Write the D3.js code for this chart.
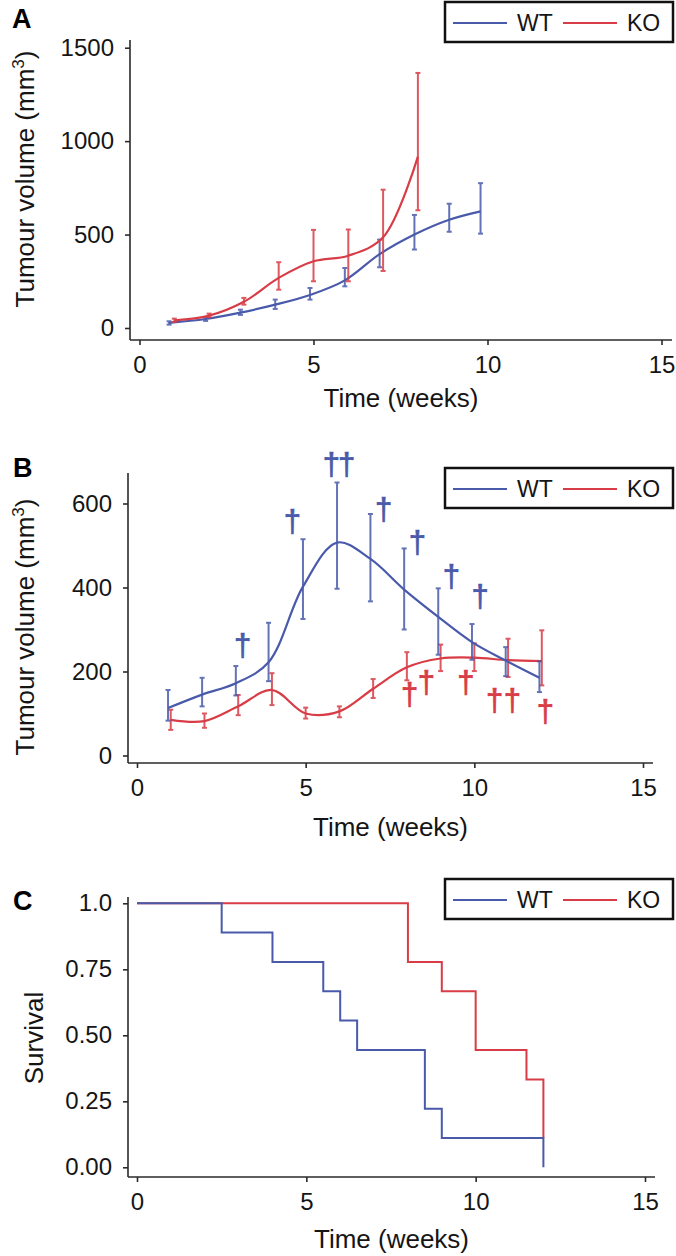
<!DOCTYPE html>
<html><head><meta charset="utf-8">
<script src="https://cdn.jsdelivr.net/npm/d3@7"></script>
<style>
body{margin:0;background:#fff}
svg{display:block}
text{font-family:"Liberation Sans",Arial,Helvetica,sans-serif}
</style>
</head><body>
<svg id="c" width="676" height="1256"></svg>
<script>
// ---------- data ----------
const groups = ["WT", "KO"];
const groupColors = ["#4a5aaa", "#d83c46"];
const xTickValues = [0, 5, 10, 15];

// Panel A: tumour volume (mm3)
const aWeeksWT = [0.85, 1.9, 2.9, 3.9, 4.9, 5.9, 6.9, 7.9, 8.9, 9.8];
const aMeanWT  = [27, 48, 82, 125, 177, 255, 395, 500, 579, 624];
const aLoWT    = [18, 38, 70, 102, 152, 223, 325, 420, 515, 505];
const aHiWT    = [36, 58, 98, 152, 214, 321, 473, 605, 665, 775];
const aWeeksKO = [1, 2, 3, 4, 5, 6, 7, 8];
const aMeanKO  = [41, 66, 140, 268, 357, 387, 485, 917];
const aLoKO    = [32, 58, 125, 205, 250, 250, 305, 630];
const aHiKO    = [50, 77, 161, 352, 525, 527, 740, 1365];
const aYTicks  = [0, 500, 1000, 1500];

// Panel B: tumour volume (mm3)
const bWeeksWT = [0.92, 1.93, 2.93, 3.9, 4.92, 5.93, 6.92, 7.92, 8.93, 9.93, 10.93, 11.93];
const bMeanWT  = [113, 145, 172, 222, 402, 507, 468, 395, 330, 270, 226, 185];
const bLoWT    = [83, 117, 143, 177, 325, 397, 367, 300, 240, 228, 189, 151];
const bHiWT    = [156, 185, 213, 316, 515, 650, 575, 493, 398, 313, 258, 224];
const bWeeksKO = [1, 2, 3, 4, 5, 6, 7, 8, 9, 10, 11, 12];
const bMeanKO  = [85, 82, 117, 156, 100, 105, 159, 210, 231, 233, 227, 225];
const bLoKO    = [61, 66, 96, 120, 88, 91, 137, 179, 201, 201, 187, 167];
const bHiKO    = [109, 100, 144, 196, 114, 117, 182, 246, 264, 267, 278, 298];
const bYTicks  = [0, 200, 400, 600];
// death markers (dagger) positions and labels
const bDaggerWeeksWT  = [3.1, 4.58, 5.96, 7.28, 8.28, 9.29, 10.14];
const bDaggerValsWT   = [258, 555, 691, 583, 505, 424, 375];
const bDaggerLabelsWT = ["\u2020", "\u2020", "\u2020\u2020", "\u2020", "\u2020", "\u2020", "\u2020"];
const bDaggerWeeksKO  = [8.05, 8.55, 9.72, 10.57, 11.1, 12.08];
const bDaggerValsKO   = [142, 172, 172, 129, 129, 103];
const bDaggerLabelsKO = ["\u2020", "\u2020", "\u2020", "\u2020", "\u2020", "\u2020"];

// Panel C: survival
const cTimesWT = [0, 2.5, 4, 5.5, 6, 6.5, 8.5, 9, 12];
const cSurvWT  = [1, 0.889, 0.778, 0.667, 0.556, 0.444, 0.222, 0.111, 0];
const cTimesKO = [0, 8, 9, 10, 11.5, 12];
const cSurvKO  = [1, 0.778, 0.667, 0.444, 0.333, 0.111];
const cYTicks  = [0, 0.25, 0.5, 0.75, 1];

// ---------- drawing ----------
const svg = d3.select("#c");
const axisColor = "#2a2a2a";
const textColor = "#151515";

function makePanel(p) {
  const x = d3.scaleLinear().domain([0, 15]).range(p.xr);
  const y = d3.scaleLinear().domain(p.yd).range(p.yr);
  const g = svg.append("g");

  g.append("line").attr("x1", p.left).attr("x2", p.right).attr("y1", p.bottom).attr("y2", p.bottom)
    .attr("stroke", axisColor).attr("stroke-width", 1.6);
  g.append("line").attr("x1", p.left).attr("x2", p.left).attr("y1", p.top).attr("y2", p.bottom)
    .attr("stroke", axisColor).attr("stroke-width", 1.6);

  const gx = g.append("g").attr("transform", `translate(0,${p.bottom})`)
    .call(d3.axisBottom(x).tickValues(xTickValues).tickSize(5).tickPadding(11).tickSizeOuter(0));
  gx.select(".domain").remove();
  const gy = g.append("g").attr("transform", `translate(${p.left},0)`)
    .call(d3.axisLeft(y).tickValues(p.yt).tickFormat(p.yf).tickSize(5).tickPadding(11).tickSizeOuter(0));
  gy.select(".domain").remove();
  [gx, gy].forEach(a => {
    a.attr("font-size", 24).attr("font-family", null);
    a.selectAll("line").attr("stroke", axisColor).attr("stroke-width", 1.6);
    a.selectAll("text").attr("fill", textColor);
  });

  g.append("text").attr("x", (p.left + p.right) / 2).attr("y", p.xTitleY)
    .attr("text-anchor", "middle").attr("font-size", 26).attr("fill", textColor).text("Time (weeks)");
  const yt = g.append("text").attr("transform", `translate(${p.yTitleX},${p.yTitleY}) rotate(-90)`)
    .attr("text-anchor", "middle").attr("font-size", 26).attr("fill", textColor);
  if (p.yTitleSup) {
    yt.append("tspan").text(p.yTitle);
    yt.append("tspan").attr("font-size", 17).attr("dy", -10).text(p.yTitleSup);
    yt.append("tspan").attr("dy", 10).text(")");
  } else {
    yt.text(p.yTitle);
  }

  g.append("text").attr("x", p.letterX).attr("y", p.letterY).attr("font-size", 27)
    .attr("font-weight", "bold").attr("fill", "#000").text(p.letter);

  const lg = g.append("g").attr("transform", `translate(445,${p.legendY})`);
  lg.append("rect").attr("x", 0).attr("y", 0).attr("width", 228).attr("height", 40)
    .attr("fill", "#fff").attr("stroke", "#111").attr("stroke-width", 2.5);
  const lx = [8, 118];
  groups.forEach((name, i) => {
    lg.append("line").attr("x1", lx[i]).attr("x2", lx[i] + 54).attr("y1", 21).attr("y2", 21)
      .attr("stroke", groupColors[i]).attr("stroke-width", 2);
    lg.append("text").attr("x", lx[i] + 64).attr("y", 29).attr("font-size", 23)
      .attr("fill", textColor).text(name);
  });
  return {x, y, g};
}

function drawSeries(P, weeks, mean, lo, hi, color) {
  const pts = weeks.map((w, i) => ({w, m: mean[i], lo: lo[i], hi: hi[i]}));
  const eb = P.g.append("g").attr("stroke", color).attr("stroke-width", 2).attr("opacity", 0.85);
  pts.forEach(d => {
    const cx = P.x(d.w);
    eb.append("line").attr("x1", cx).attr("x2", cx).attr("y1", P.y(d.lo)).attr("y2", P.y(d.hi));
    eb.append("line").attr("x1", cx - 2.5).attr("x2", cx + 2.5).attr("y1", P.y(d.lo)).attr("y2", P.y(d.lo));
    eb.append("line").attr("x1", cx - 2.5).attr("x2", cx + 2.5).attr("y1", P.y(d.hi)).attr("y2", P.y(d.hi));
  });
  const line = d3.line().x(d => P.x(d.w)).y(d => P.y(d.m)).curve(d3.curveCatmullRom.alpha(0.5));
  P.g.append("path").datum(pts).attr("d", line).attr("fill", "none")
    .attr("stroke", color).attr("stroke-width", 2.2);
}

function drawDaggers(P, weeks, vals, labels, color) {
  P.g.append("g").selectAll("text").data(weeks.map((w, i) => ({w, v: vals[i], t: labels[i]}))).join("text")
    .attr("x", d => P.x(d.w)).attr("y", d => P.y(d.v)).attr("dy", "0.3em")
    .attr("text-anchor", "middle").attr("font-size", 31).attr("letter-spacing", -2)
    .attr("stroke", color).attr("stroke-width", 0.7)
    .attr("fill", color).text(d => d.t);
}

const PA = makePanel({
  letter: "A", letterX: 12, letterY: 28,
  xr: [139.5, 661.5], yd: [0, 1500], yr: [328, 47.7],
  left: 130, right: 672, top: 40, bottom: 340,
  yt: aYTicks, yf: d3.format("d"),
  xTitleY: 407, yTitle: "Tumour volume (mm", yTitleSup: "3", yTitleX: 34, yTitleY: 179,
  legendY: 2
});
drawSeries(PA, aWeeksWT, aMeanWT, aLoWT, aHiWT, groupColors[0]);
drawSeries(PA, aWeeksKO, aMeanKO, aLoKO, aHiKO, groupColors[1]);

const PB = makePanel({
  letter: "B", letterX: 13, letterY: 477,
  xr: [137, 643], yd: [0, 600], yr: [755.5, 503.5],
  left: 128, right: 653, top: 473, bottom: 763,
  yt: bYTicks, yf: d3.format("d"),
  xTitleY: 836, yTitle: "Tumour volume (mm", yTitleSup: "3", yTitleX: 34, yTitleY: 627,
  legendY: 468
});
drawSeries(PB, bWeeksKO, bMeanKO, bLoKO, bHiKO, groupColors[1]);
drawSeries(PB, bWeeksWT, bMeanWT, bLoWT, bHiWT, groupColors[0]);
drawDaggers(PB, bDaggerWeeksWT, bDaggerValsWT, bDaggerLabelsWT, groupColors[0]);
drawDaggers(PB, bDaggerWeeksKO, bDaggerValsKO, bDaggerLabelsKO, groupColors[1]);

const PC = makePanel({
  letter: "C", letterX: 13, letterY: 910,
  xr: [137, 645], yd: [0, 1], yr: [1167.3, 903.3],
  left: 128, right: 655, top: 897, bottom: 1177,
  yt: cYTicks, yf: d => d === 1 ? "1.0" : d3.format(".2f")(d),
  xTitleY: 1248, yTitle: "Survival", yTitleX: 43, yTitleY: 1038,
  legendY: 879
});
const step = d3.line().x(d => PC.x(d.t)).y(d => PC.y(d.s)).curve(d3.curveStepAfter);
PC.g.append("path").datum(cTimesKO.map((t, i) => ({t, s: cSurvKO[i]}))).attr("d", step)
  .attr("fill", "none").attr("stroke", groupColors[1]).attr("stroke-width", 2);
PC.g.append("path").datum(cTimesWT.map((t, i) => ({t, s: cSurvWT[i]}))).attr("d", step)
  .attr("fill", "none").attr("stroke", groupColors[0]).attr("stroke-width", 2);
</script>
</body></html>
